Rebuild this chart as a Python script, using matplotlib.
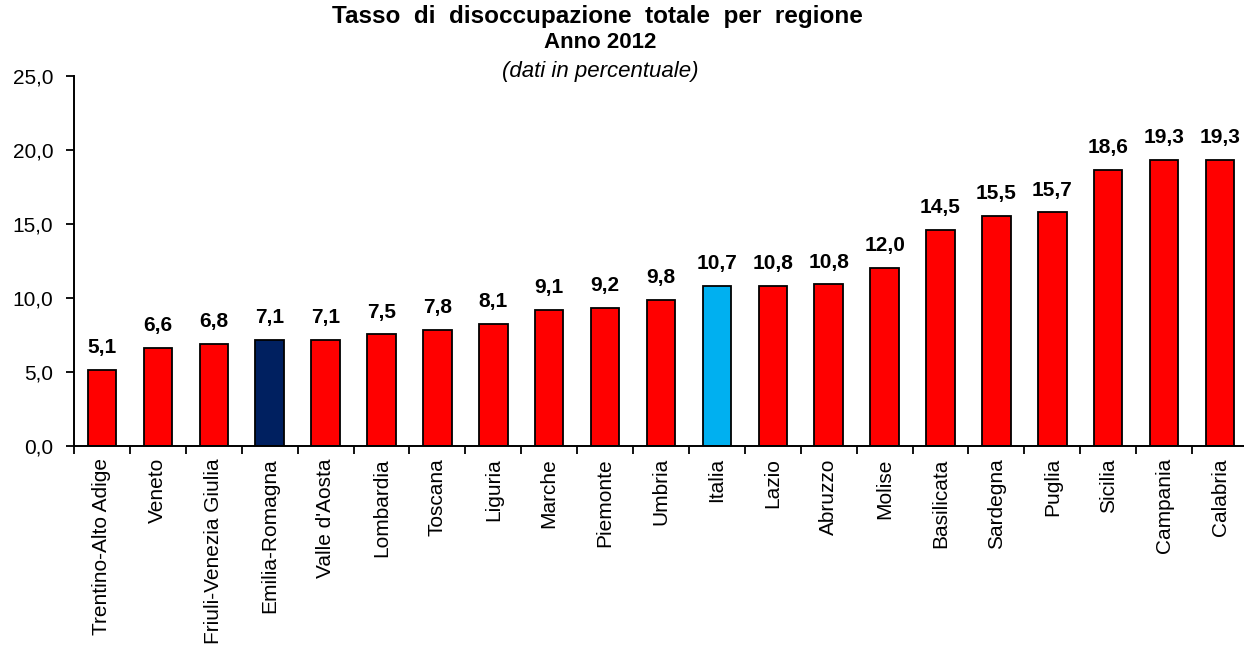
import matplotlib
matplotlib.use("Agg")
import matplotlib.pyplot as plt
from matplotlib.ticker import FuncFormatter

plt.rcParams['font.family'] = ['Liberation Sans', 'DejaVu Sans']

regioni = ['Trentino-Alto Adige', 'Veneto', 'Friuli-Venezia Giulia', 'Emilia-Romagna',
           "Valle d'Aosta", 'Lombardia', 'Toscana', 'Liguria', 'Marche', 'Piemonte',
           'Umbria', 'Italia', 'Lazio', 'Abruzzo', 'Molise', 'Basilicata', 'Sardegna',
           'Puglia', 'Sicilia', 'Campania', 'Calabria']
# bar heights
tasso = [5.12, 6.63, 6.88, 7.15, 7.15, 7.55, 7.84, 8.25, 9.2, 9.33,
         9.87, 10.8, 10.8, 10.93, 12.02, 14.6, 15.53, 15.8, 18.66, 19.32, 19.32]
# labels printed above bars
etichette = ['5,1', '6,6', '6,8', '7,1', '7,1', '7,5', '7,8', '8,1', '9,1', '9,2',
             '9,8', '10,7', '10,8', '10,8', '12,0', '14,5', '15,5', '15,7', '18,6', '19,3', '19,3']

colori = []
for r in regioni:
    if r == 'Emilia-Romagna':
        colori.append('#002060')
    elif r == 'Italia':
        colori.append('#00B0F0')
    else:
        colori.append('#FF0000')

fig = plt.figure(figsize=(12.44, 6.46), dpi=100)
ax = fig.add_axes([74/1244, 0.31, 1174/1244, 0.5725])

x = list(range(len(regioni)))
bars = ax.bar(x, tasso, width=0.51, color=colori, edgecolor='black', linewidth=1.3)

for b, lab in zip(bars, etichette):
    ax.annotate(lab, (b.get_x() + b.get_width()/2, b.get_height()),
                xytext=(0, 9), textcoords='offset points',
                ha='center', va='bottom', fontsize=15, fontweight='bold')

ax.set_xlim(-0.5, len(regioni) - 0.5)
ax.set_ylim(0, 25)
ax.set_yticks([0, 5, 10, 15, 20, 25])
ax.yaxis.set_major_formatter(FuncFormatter(lambda v, p: f'{v:.1f}'.replace('.', ',')))

# x ticks sit between categories, labels at category centres
ax.set_xticks([i - 0.5 for i in range(len(regioni) + 1)])
ax.set_xticklabels([])
ax.set_xticks(x, minor=True)
ax.set_xticklabels(regioni, minor=True, rotation=90, fontsize=15)
ax.tick_params(axis='x', which='major', length=6, width=1.3, direction='out')
ax.tick_params(axis='x', which='minor', length=0, pad=9)
ax.tick_params(axis='y', length=6, width=1.3, labelsize=15, pad=9)

for s in ['top', 'right']:
    ax.spines[s].set_visible(False)
for s in ['left', 'bottom']:
    ax.spines[s].set_linewidth(1.4)

cx = 597/1244
# first title line is spaced out wider in the original
fig.text(cx, 1 - 17/646, 'Tasso  di  disoccupazione  totale  per  regione',
         ha='center', va='center', fontsize=17.5, fontweight='bold')
fig.text(600/1244, 1 - 42/646, 'Anno 2012', ha='center', va='center', fontsize=16, fontweight='bold')
fig.text(600/1244, 1 - 71/646, '(dati in percentuale)', ha='center', va='center',
         fontsize=16, style='italic')

fig.savefig('out.png', dpi=100)
